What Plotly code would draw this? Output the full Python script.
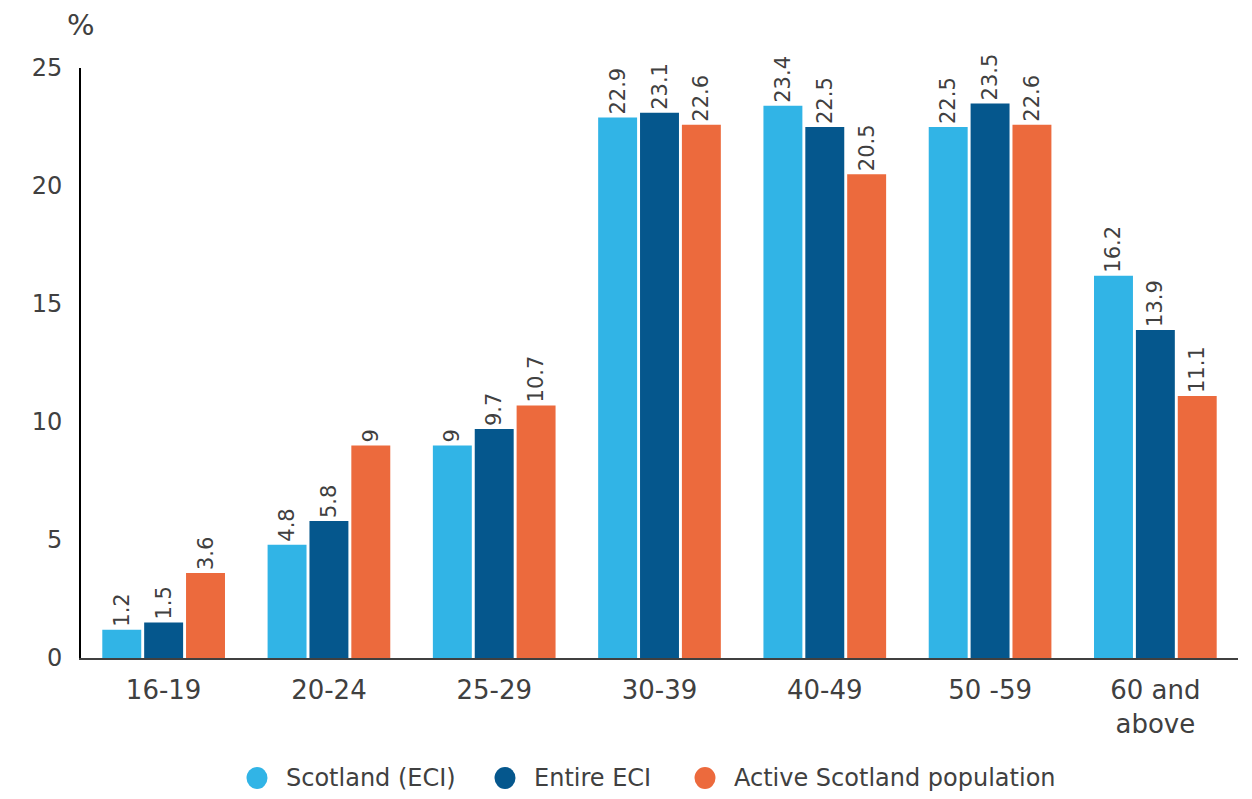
import plotly.graph_objects as go

# Age bands and the share (%) of each population in them
age_bands = ["16-19", "20-24", "25-29", "30-39", "40-49", "50 -59", "60 and<br>above"]
scotland_eci = [1.2, 4.8, 9, 22.9, 23.4, 22.5, 16.2]
entire_eci = [1.5, 5.8, 9.7, 23.1, 22.5, 23.5, 13.9]
active_scotland = [3.6, 9, 10.7, 22.6, 20.5, 22.6, 11.1]

series_names = ["Scotland (ECI)", "Entire ECI", "Active Scotland population"]
series_values = [scotland_eci, entire_eci, active_scotland]
series_colors = ["#31B4E6", "#05578D", "#EC6A3D"]

FONT = "DejaVu Sans"
TEXT = "#404040"

# plot area geometry in pixels (used to place the hand-drawn legend)
W, H = 1252, 799
ML, MR, MT, MB = 81, 14, 68, 141
PW, PH = W - ML - MR, H - MT - MB


def px_to_paper(px, py):
    return (px - ML) / PW, (H - MB - py) / PH


fig = go.Figure()
for name, vals, color in zip(series_names, series_values, series_colors):
    fig.add_trace(go.Bar(
        x=age_bands, y=vals, name=name,
        marker=dict(color=color, line=dict(width=0)),
        text=[f"{v:g}" for v in vals],
        textposition="outside", textangle=-90,
        textfont=dict(family=FONT, size=21, color=TEXT),
        constraintext="none", cliponaxis=False,
        showlegend=False,
    ))

# legend below the chart: a round swatch followed by the series name
legend_swatch_x = [257, 505, 705]
legend_y = 778
shapes, annotations = [], []
for name, color, sx in zip(series_names, series_colors, legend_swatch_x):
    cx, cy = px_to_paper(sx, legend_y)
    shapes.append(dict(
        type="circle", xref="paper", yref="paper",
        xsizemode="pixel", ysizemode="pixel",
        xanchor=cx, yanchor=cy, x0=-10.5, x1=10.5, y0=-11, y1=11,
        fillcolor=color, line=dict(width=0),
    ))
    tx, ty = px_to_paper(sx + 27, legend_y)
    annotations.append(dict(
        text=name, xref="paper", yref="paper", x=tx, y=ty,
        xanchor="left", yanchor="middle", showarrow=False,
        font=dict(family=FONT, size=24, color=TEXT),
    ))

annotations.append(dict(
    text="%", xref="paper", yref="paper", x=0, y=1.073,
    xanchor="center", yanchor="middle", showarrow=False,
    font=dict(family=FONT, size=29, color=TEXT),
))

fig.update_layout(
    width=W, height=H,
    margin=dict(l=ML, r=MR, t=MT, b=MB),
    plot_bgcolor="white", paper_bgcolor="white",
    barmode="group", bargap=0.24, bargroupgap=0.07,
    font=dict(family=FONT, color=TEXT),
    showlegend=False,
    shapes=shapes,
    annotations=annotations,
)
fig.update_xaxes(
    showline=True, linecolor="#404040", linewidth=2,
    tickfont=dict(family=FONT, size=26, color=TEXT),
    ticks="", showgrid=False, automargin=False, ticklabelstandoff=8,
)
fig.update_yaxes(
    range=[0, 25], dtick=5, showline=True, linecolor="black", linewidth=2,
    showgrid=False, zeroline=False, ticks="", automargin=False,
    tickfont=dict(family=FONT, size=24, color=TEXT), ticklabelstandoff=12,
)

fig.write_html("out.html")
